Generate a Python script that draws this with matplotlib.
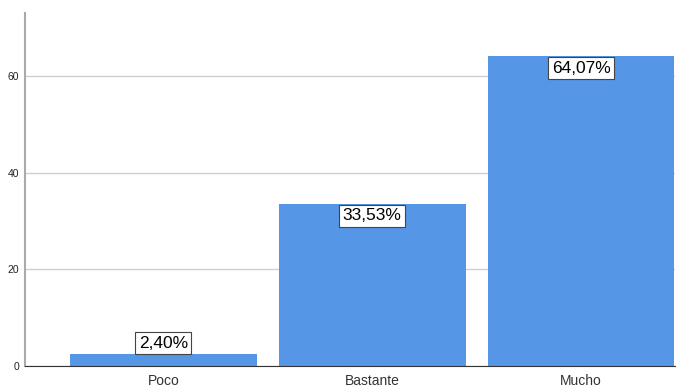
import matplotlib
matplotlib.use("Agg")
import matplotlib.pyplot as plt

plt.rcParams['font.family'] = ['Liberation Sans', 'DejaVu Sans']

categories = ['Poco', 'Bastante', 'Mucho']
values = [2.40, 33.53, 64.07]
labels = ['2,40%', '33,53%', '64,07%']

fig = plt.figure(figsize=(6.78, 3.87), dpi=100)
ax = fig.add_axes([25/678, 21/387, 650/678, 353/387])
x = list(range(len(categories)))
ax.bar(x, values, width=0.895, color='#5596e6', zorder=2)

ax.set_xlim(-0.663, 2.45)
ax.set_ylim(0, 73)
ax.set_yticks([0, 20, 40, 60])
ax.yaxis.grid(True, color='#d0d0d0', linewidth=1, zorder=0)
ax.set_xticks(x)
ax.set_xticklabels(categories, fontsize=10, color='#333333')
ax.tick_params(axis='y', labelsize=7.5, length=0, pad=4, labelcolor='#222222')
ax.tick_params(axis='x', length=0, pad=6)

for s in ['top', 'right']:
    ax.spines[s].set_visible(False)
ax.spines['left'].set_color('#aaaaaa')
ax.spines['left'].set_linewidth(1.5)
ax.spines['bottom'].set_color('#333333')
ax.spines['bottom'].set_linewidth(0.8)

box = dict(boxstyle='square,pad=0.2', facecolor='white', edgecolor='#444444', linewidth=0.8)
for xi, v, lab in zip(x, values, labels):
    if v < 10:
        ax.text(xi, v + 0.8, lab, ha='center', va='bottom', fontsize=12.5, bbox=box, zorder=3)
    else:
        ax.text(xi, v - 0.9, lab, ha='center', va='top', fontsize=12.5, bbox=box, zorder=3)

fig.savefig('out.png', dpi=100)
